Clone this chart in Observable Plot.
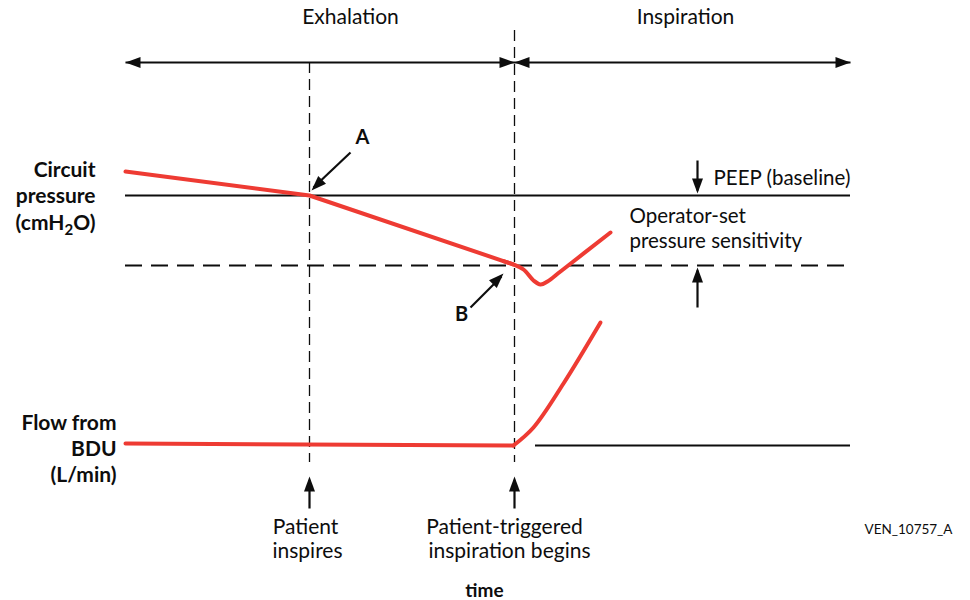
<!DOCTYPE html>
<html>
<head>
<meta charset="utf-8">
<script src="https://cdn.jsdelivr.net/npm/d3@7"></script>
<script src="https://cdn.jsdelivr.net/npm/@observablehq/plot@0.6"></script>
<style>
  html, body { margin: 0; padding: 0; background: #fff; }
  svg { display: block; }
</style>
</head>
<body>
<div id="chart"></div>
<script>
// Diagram units: x = time (0 = left edge of trace, 145 = right edge), y = vertical level (0 top, 60 bottom)
const RED = "#ee3b33";

// Circuit pressure trace (straight part, then dip after trigger)
const pressureStraightT = [0, 36.8, 77.6];
const pressureStraightV = [17.1, 19.5, 26.4];
const pressureDipT = [75.6, 77.6, 79.6, 81.6, 83.0, 84.4, 87.0, 97.0];
const pressureDipV = [26.06, 26.4, 26.9, 28.0, 28.4, 28.1, 27.1, 23.2];

// Flow from BDU trace
const flowFlatT = [0, 77.6];
const flowFlatV = [44.3, 44.5];
const flowRiseT = [77.6, 81.6, 87.6, 95.0];
const flowRiseV = [44.5, 42.7, 38.3, 32.2];

// Reference levels
const peepLevel = 19.5;
const sensitivityLevel = 26.5;
const flowBaseline = 44.5;
const flowBaselineStart = 82;
const traceStart = 0, traceEnd = 145;

// Event times
const inspiresT = 36.8;
const triggerT = 77.8;
const phaseArrowLevel = 6.2;

// Vertical dashed guides
const guideT = [inspiresT, triggerT];
const guideTop = [phaseArrowLevel, 3.0];
const guideBottom = [46.2, 46.2];

// Arrow shafts: [x1, y1, x2, y2]
const shaftX1 = [traceStart, 114.4, 114.4, 45.0, 69.0, inspiresT, triggerT];
const shaftY1 = [phaseArrowLevel, 16.0, 30.7, 15.2, 30.7, 50.8, 50.8];
const shaftX2 = [traceEnd, 114.4, 114.4, 37.6, 75.2, inspiresT, triggerT];
const shaftY2 = [phaseArrowLevel, 19.0, 27.0, 18.7, 27.6, 48.0, 48.0];

// Arrow heads: tip position and heading (degrees clockwise from up)
const headX = [traceStart, triggerT, triggerT, traceEnd, 114.4, 114.4, 37.2, 75.6, inspiresT, triggerT];
const headY = [phaseArrowLevel, phaseArrowLevel, phaseArrowLevel, phaseArrowLevel, 19.3, 26.7, 19.0, 27.3, 47.6, 47.6];
const headAngle = [270, 90, 270, 90, 180, 0, 225, 45, 0, 0];

// Text labels
const phaseLabels = ["Exhalation", "Inspiration"];
const phaseLabelX = [45, 112];
const phaseLabelY = [1.7, 1.7];

const pressureAxisLabels = ["Circuit", "pressure", "(cmH2O)"];
const pressureAxisY = [17.0, 19.6, 22.3];
const pressureAxisX = -6;
const flowAxisLabels = ["Flow from", "BDU", "(L/min)"];
const flowAxisY = [42.3, 44.9, 47.5];
const flowAxisX = -1.8;

const noteLabels = ["PEEP (baseline)", "Operator-set", "pressure sensitivity"];
const noteX = [117.6, 100.8, 100.8];
const noteY = [17.8, 21.6, 24.1];

const pointLabels = ["A", "B"];
const pointX = [47.4, 67.2];
const pointY = [13.7, 31.4];

const eventLabels = ["Patient", "inspires", "Patient-triggered", "inspiration begins"];
const eventX = [36.0, 36.4, 75.8, 76.8];
const eventY = [52.7, 55.1, 52.7, 55.1];

const axisTitle = "time";
const axisTitleX = 71.8, axisTitleY = 59.0;
const figureId = "VEN_10757_A";
const figureIdX = 156.6, figureIdY = 52.9;

// ---- build tables ----
const zip2 = (a, b) => a.map((v, i) => ({x: v, y: b[i]}));
const pStraight = zip2(pressureStraightT, pressureStraightV);
const pDip = zip2(pressureDipT, pressureDipV);
const fFlat = zip2(flowFlatT, flowFlatV);
const fRise = zip2(flowRiseT, flowRiseV);
const guides = guideT.map((t, i) => ({x: t, y1: guideTop[i], y2: guideBottom[i]}));
const shafts = shaftX1.map((v, i) => ({x1: v, y1: shaftY1[i], x2: shaftX2[i], y2: shaftY2[i]}));
const heads = headX.map((v, i) => ({x: v, y: headY[i], a: headAngle[i]}));
const tbl = (labels, xs, ys) => labels.map((t, i) => ({t, x: Array.isArray(xs) ? xs[i] : xs, y: ys[i]}));

const arrowHead = {
  draw(ctx) {
    ctx.moveTo(0, 0);
    ctx.lineTo(-5.5, 15);
    ctx.lineTo(5.5, 15);
    ctx.closePath();
  }
};

const FONT = "Lato, 'Open Sans', sans-serif";
const INK = "#0d0d0d";

const chart = Plot.plot({
  width: 970,
  height: 600,
  margin: 0,
  x: {domain: [0, 145], range: [125, 850], axis: null},
  y: {domain: [0, 60], range: [0, 600], axis: null},
  style: {fontFamily: FONT, color: INK, background: "#fff"},
  marks: [
    // guides
    Plot.ruleX(guides, {x: "x", y1: "y1", y2: "y2", stroke: INK, strokeWidth: 1.3, strokeDasharray: "11,6"}),
    // reference levels
    Plot.ruleY([peepLevel], {x1: traceStart, x2: traceEnd, stroke: INK, strokeWidth: 2}),
    Plot.ruleY([sensitivityLevel], {x1: traceStart, x2: traceEnd, stroke: INK, strokeWidth: 2, strokeDasharray: "17,9"}),
    Plot.ruleY([flowBaseline], {x1: flowBaselineStart, x2: traceEnd, stroke: INK, strokeWidth: 2}),
    // arrows
    Plot.link(shafts, {x1: "x1", y1: "y1", x2: "x2", y2: "y2", stroke: INK, strokeWidth: 2.2}),
    Plot.dot(heads, {x: "x", y: "y", rotate: "a", symbol: arrowHead, fill: INK, stroke: null, r: 5}),
    // traces
    Plot.line(pStraight, {x: "x", y: "y", stroke: RED, strokeWidth: 4}),
    Plot.line(pDip, {x: "x", y: "y", stroke: RED, strokeWidth: 4, curve: "catmull-rom"}),
    Plot.line(fFlat, {x: "x", y: "y", stroke: RED, strokeWidth: 4}),
    Plot.line(fRise, {x: "x", y: "y", stroke: RED, strokeWidth: 4, curve: "catmull-rom"}),
    // text
    Plot.text(tbl(phaseLabels, phaseLabelX, phaseLabelY), {x: "x", y: "y", text: "t", fontSize: 21, fill: INK}),
    Plot.text(tbl(pressureAxisLabels, pressureAxisX, pressureAxisY), {x: "x", y: "y", text: "t", fontSize: 21, fontWeight: "bold", textAnchor: "end", fill: INK}),
    Plot.text(tbl(flowAxisLabels, flowAxisX, flowAxisY), {x: "x", y: "y", text: "t", fontSize: 21, fontWeight: "bold", textAnchor: "end", fill: INK}),
    Plot.text(tbl(noteLabels, noteX, noteY), {x: "x", y: "y", text: "t", fontSize: 20.5, textAnchor: "start", fill: INK}),
    Plot.text(tbl(pointLabels, pointX, pointY), {x: "x", y: "y", text: "t", fontSize: 20, fontWeight: "bold", fill: INK}),
    Plot.text(tbl(eventLabels, eventX, eventY), {x: "x", y: "y", text: "t", fontSize: 21, fill: INK}),
    Plot.text([axisTitle], {x: axisTitleX, y: axisTitleY, text: d => d, fontSize: 19, fontWeight: "bold", fill: INK}),
    Plot.text([figureId], {x: figureIdX, y: figureIdY, text: d => d, fontSize: 13.5, fill: INK})
  ]
});

// subscript for cmH2O
chart.querySelectorAll("text").forEach(el => {
  if (el.textContent === "(cmH2O)") {
    el.innerHTML = '(cmH<tspan dy="5" font-size="15">2</tspan><tspan dy="-5">O)</tspan>';
  }
});

document.getElementById("chart").appendChild(chart);
</script>
</body>
</html>
